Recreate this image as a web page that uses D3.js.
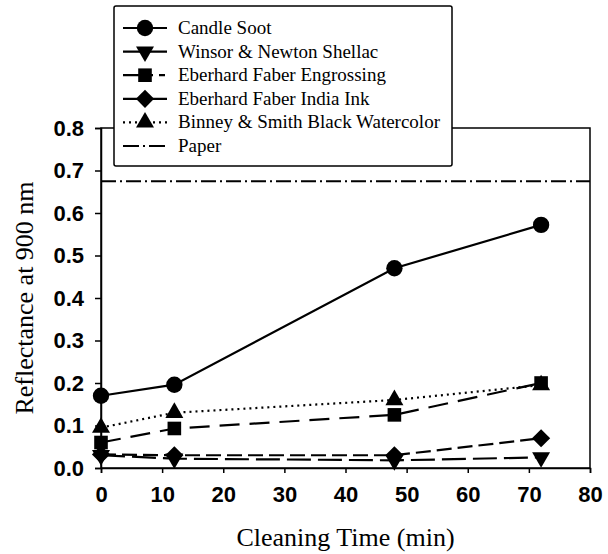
<!DOCTYPE html>
<html><head><meta charset="utf-8">
<script src="https://cdn.jsdelivr.net/npm/d3@7"></script>
<style>body{margin:0;background:#fff}</style>
</head><body><svg id="c" width="608" height="554"></svg>
<script>
// ---- data ----
const times = [0, 12, 48, 72];
const candleSoot = [0.17, 0.196, 0.47, 0.572];
const winsorShellac = [0.03, 0.022, 0.018, 0.025];
const engrossing = [0.06, 0.093, 0.125, 0.2];
const indiaInk = [0.032, 0.03, 0.03, 0.07];
const binneyWatercolor = [0.095, 0.13, 0.16, 0.195];
const paperTimes = [0, 80];
const paperValues = [0.675, 0.675];
const xTicks = [0, 10, 20, 30, 40, 50, 60, 70, 80];
const yTicks = [0.0, 0.1, 0.2, 0.3, 0.4, 0.5, 0.6, 0.7, 0.8];
const seriesNames = ["Candle Soot", "Winsor & Newton Shellac", "Eberhard Faber Engrossing",
  "Eberhard Faber India Ink", "Binney & Smith Black Watercolor", "Paper"];
const xTitle = "Cleaning Time (min)";
const yTitle = "Reflectance at 900 nm";

// ---- layout ----
const L = 101, R = 590, T = 128, B = 468;
const svg = d3.select("#c");
const x = d3.scaleLinear().domain([0, 80]).range([L, R]);
const y = d3.scaleLinear().domain([0, 0.8]).range([B, T]);

const wideDiamond = {
  draw(ctx, size) {
    const r = Math.sqrt(size / 2);
    ctx.moveTo(0, -r); ctx.lineTo(r, 0); ctx.lineTo(0, r); ctx.lineTo(-r, 0); ctx.closePath();
  }
};

const series = [
  {name: seriesNames[0], vals: candleSoot, dash: null, sym: d3.symbolCircle, size: 210},
  {name: seriesNames[1], vals: winsorShellac, dash: "24,7", sym: "down", size: 140},
  {name: seriesNames[2], vals: engrossing, dash: "20,10", sym: d3.symbolSquare, size: 185},
  {name: seriesNames[3], vals: indiaInk, dash: "15,6", sym: wideDiamond, size: 165},
  {name: seriesNames[4], vals: binneyWatercolor, dash: "2,4", sym: d3.symbolTriangle, size: 140},
];
const paperDash = "15,4,2,4";

function symPath(s, size) {
  if (s === "down") return d3.symbol().type(d3.symbolTriangle).size(size)();
  return d3.symbol().type(s).size(size)();
}
function symTransform(s, cx, cy) {
  return s === "down" ? `translate(${cx},${cy}) rotate(180)` : `translate(${cx},${cy})`;
}

// frame
svg.append("rect").attr("x", L).attr("y", T).attr("width", R - L).attr("height", B - T)
  .attr("fill", "none").attr("stroke", "#000").attr("stroke-width", 1.5);

// axes
const xAxis = svg.append("g").attr("transform", `translate(0,${B})`)
  .call(d3.axisBottom(x).tickValues(xTicks).tickSize(5).tickPadding(13).tickFormat(d3.format("d")));
const yAxis = svg.append("g").attr("transform", `translate(${L},0)`)
  .call(d3.axisLeft(y).tickValues(yTicks).tickSize(6).tickPadding(11).tickFormat(d3.format(".1f")));
[xAxis, yAxis].forEach(g => {
  g.select(".domain").attr("stroke-width", 1.5);
  g.selectAll(".tick line").attr("stroke-width", 1.5);
  g.selectAll("text").attr("font-family", "Liberation Sans, Arial, sans-serif")
    .attr("font-weight", "bold").attr("font-size", 22).attr("fill", "#000");
});

// titles
svg.append("text").attr("x", (L + R) / 2).attr("y", 546).attr("text-anchor", "middle")
  .attr("font-family", "Liberation Serif, Times New Roman, serif").attr("font-size", 26)
  .text(xTitle);
svg.append("text").attr("transform", `translate(33,${(T + B) / 2}) rotate(-90)`)
  .attr("text-anchor", "middle")
  .attr("font-family", "Liberation Serif, Times New Roman, serif").attr("font-size", 26)
  .text(yTitle);

// paper line
const lineGen = d3.line().x(d => x(d[0])).y(d => y(d[1]));
svg.append("path").attr("d", lineGen(paperTimes.map((t, i) => [t, paperValues[i]])))
  .attr("fill", "none").attr("stroke", "#000").attr("stroke-width", 2).attr("stroke-dasharray", paperDash);

// series lines
series.forEach(s => {
  svg.append("path").attr("d", lineGen(times.map((t, i) => [t, s.vals[i]])))
    .attr("fill", "none").attr("stroke", "#000").attr("stroke-width", 2.2)
    .attr("stroke-dasharray", s.dash);
});
// markers (order so overlaps match)
[4, 1, 2, 3, 0].forEach(k => {
  const s = series[k];
  svg.append("g").selectAll("path").data(times).join("path")
    .attr("d", symPath(s.sym, s.size))
    .attr("transform", (t, i) => symTransform(s.sym, x(t), y(s.vals[i])))
    .attr("fill", "#000");
});

// legend
const lg = svg.append("g");
lg.append("rect").attr("x", 114).attr("y", 6).attr("width", 338).attr("height", 160)
  .attr("rx", 2).attr("fill", "#fff").attr("stroke", "#000").attr("stroke-width", 1.5);
const rowY = i => 28 + i * 23.6;
const legendDash = [null, null, "30,6,6,100", null, "2,4", "16,4,2,4"];
seriesNames.forEach((n, i) => {
  const yy = rowY(i);
  lg.append("line").attr("x1", 123).attr("x2", 167).attr("y1", yy).attr("y2", yy)
    .attr("stroke", "#000").attr("stroke-width", 2.2).attr("stroke-dasharray", legendDash[i]);
  if (i < 5) {
    const s = series[i];
    lg.append("path").attr("d", symPath(s.sym, s.size))
      .attr("transform", symTransform(s.sym, 145, yy)).attr("fill", "#000");
  }
  lg.append("text").attr("x", 178).attr("y", yy + 6)
    .attr("font-family", "Liberation Serif, Times New Roman, serif").attr("font-size", 19)
    .text(n);
});
</script></body></html>
